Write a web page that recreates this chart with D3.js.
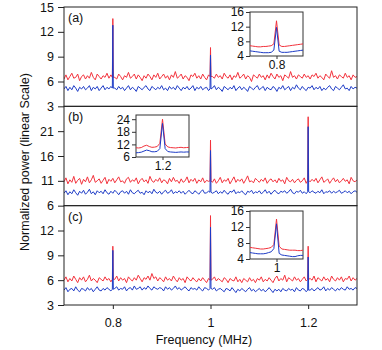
<!DOCTYPE html>
<html>
<head>
<meta charset="utf-8">
<script src="https://d3js.org/d3.v7.min.js"></script>
<style>
	body { margin: 0; background: #fff; }
	text { font-family: "Liberation Sans", Arial, sans-serif; fill: #111; }
</style>
</head>
<body>
<div id="canvas"></div>
<script>
var width = 382,
	height = 350;

// frequency grid of the main traces (MHz)
var freqStart = 0.7,
	freqStep = 0.004,
	freqCount = 151;

var xTicks = [0.8, 1, 1.2];

// panel (a) background traces
var aRed = [
	6.3,6.8,6.2,6.6,7.0,6.4,6.5,6.9,6.1,6.6,
	6.8,6.3,6.7,6.4,7.1,6.5,6.2,6.9,6.6,6.3,
	6.7,6.5,7.0,6.4,6.8,6.5,6.5,6.3,6.9,6.6,
	6.2,6.7,6.5,7.1,6.4,6.6,6.9,6.3,6.8,6.5,
	6.1,6.7,6.4,6.9,6.6,6.2,6.8,6.5,7.0,6.3,
	6.6,6.9,6.4,6.7,6.2,6.8,6.5,7.2,6.4,6.6,
	6.9,6.3,6.7,6.5,6.1,6.8,6.6,7.0,6.4,6.7,
	6.3,6.9,6.5,6.2,6.8,6.6,6.6,6.4,6.9,6.5,
	6.7,6.3,7.0,6.6,6.4,6.8,6.2,6.7,6.5,7.1,
	6.4,6.6,6.9,6.3,6.7,6.5,6.0,6.8,6.6,6.4,
	6.9,6.5,6.7,6.2,6.8,6.4,7.0,6.6,6.3,6.9,
	6.5,6.7,6.1,6.8,6.6,6.4,7.2,6.5,6.7,6.3,
	6.8,6.6,6.4,6.9,6.5,6.7,6.3,6.8,6.6,7.0,
	6.4,6.7,6.5,6.2,6.9,6.6,6.4,7.3,6.5,6.7,
	6.3,6.8,6.6,6.4,7.0,6.5,6.7,6.2,6.8,6.5,
	6.6];
var aBlue = [
	5.1,5.4,4.9,5.3,5.0,5.5,5.2,4.8,5.3,5.1,
	5.4,5.0,5.2,5.5,4.9,5.3,5.1,5.4,4.9,5.2,
	5.5,5.0,5.3,5.1,5.4,5.2,5.2,5.0,5.4,5.1,
	5.3,4.9,5.2,5.5,5.0,5.3,5.1,4.8,5.4,5.2,
	5.0,5.3,5.5,5.1,4.9,5.4,5.2,5.0,5.3,5.1,
	5.5,5.0,5.2,4.9,5.4,5.1,5.3,5.0,5.5,5.2,
	4.9,5.3,5.1,5.4,5.0,5.2,5.5,4.9,5.3,5.1,
	5.4,5.0,5.2,5.3,4.9,5.1,5.2,5.5,5.0,5.3,
	5.1,4.8,5.4,5.2,5.0,5.3,5.1,5.5,4.9,5.2,
	5.4,5.0,5.3,5.1,4.8,5.4,5.2,5.0,5.3,5.5,
	5.0,5.2,5.4,4.9,5.3,5.1,5.0,5.4,5.2,4.8,
	5.3,5.1,5.5,5.0,5.2,5.4,4.9,5.3,5.1,5.6,
	5.2,5.0,5.4,5.1,4.9,5.3,5.2,5.5,5.0,5.3,
	5.1,5.4,4.9,5.2,5.0,5.3,5.5,5.1,4.9,5.4,
	5.2,5.0,5.3,5.6,5.1,5.2,4.9,5.4,5.1,5.3,
	5.2];
var aPeakFreq = [0.8, 1.0];
var aPeakRed  = [13.6, 10.1];
var aPeakBlue = [12.8, 9.2];

// panel (b)
var bRed = [
	10.8,11.6,10.4,11.2,10.7,11.9,10.5,11.1,11.5,10.3,
	11.3,10.8,11.8,10.6,11.2,12.1,10.7,11.0,11.4,10.5,
	11.1,11.7,10.4,11.3,10.9,11.5,10.6,11.2,11.8,10.8,
	11.0,10.5,11.4,11.7,10.7,11.2,10.9,11.6,10.4,11.1,
	11.5,10.8,11.2,10.5,11.9,11.0,10.7,11.3,10.9,11.6,
	10.6,11.2,11.0,10.4,11.5,10.8,11.7,10.9,11.1,10.5,
	11.4,10.7,11.0,11.8,10.6,11.3,10.9,11.5,10.5,11.2,
	10.8,11.6,10.6,11.1,10.9,11.0,10.7,11.4,10.5,11.0,
	11.7,10.6,11.2,10.9,11.5,10.4,11.1,11.8,10.7,11.3,
	10.9,11.4,10.5,11.2,12.0,10.8,11.0,10.6,11.5,11.1,
	10.7,11.3,10.9,11.6,10.5,11.1,11.4,10.8,11.2,10.6,
	11.5,10.9,11.2,10.4,11.7,11.0,10.8,11.3,10.6,11.1,
	11.4,10.7,11.0,11.6,10.5,11.1,10.8,11.3,10.9,11.5,
	10.6,11.2,11.8,10.7,11.0,11.4,10.5,11.1,11.6,10.8,
	11.3,10.6,11.0,11.5,10.9,11.2,10.4,11.7,11.0,10.8,
	11.2];
var bBlue = [
	8.5,9.0,8.2,8.8,8.4,9.2,8.6,8.1,8.9,8.5,
	9.1,8.3,8.7,9.3,8.4,8.8,8.2,9.0,8.6,8.9,
	8.4,9.2,8.6,8.3,8.9,8.5,9.1,8.7,8.2,8.8,
	9.0,8.5,8.9,8.3,9.2,8.6,8.4,8.8,9.1,8.5,
	8.7,8.2,9.0,8.6,8.9,8.4,9.3,8.7,8.5,8.9,
	8.3,8.8,9.1,8.5,8.7,9.2,8.4,8.8,8.6,9.0,
	8.5,8.9,8.3,8.7,9.1,8.6,8.4,9.0,8.7,8.3,
	8.8,9.2,8.5,8.6,8.9,8.7,8.5,8.7,9.0,8.4,
	8.8,8.5,9.1,8.6,8.3,8.9,8.7,9.2,8.4,8.8,
	8.6,9.0,8.5,8.2,8.9,8.7,9.1,8.4,8.8,8.6,
	9.0,8.4,8.7,9.2,8.5,8.9,8.3,8.8,9.1,8.6,
	8.4,8.9,8.7,9.0,8.5,8.8,9.3,8.6,8.4,8.9,
	8.7,9.1,8.5,8.8,8.4,8.8,8.6,9.0,8.7,8.5,
	8.9,8.6,9.2,8.4,8.8,8.7,9.0,8.5,8.9,8.6,
	8.8,9.1,8.5,8.7,9.0,8.6,8.9,8.4,8.8,9.0,
	8.7];
var bPeakFreq = [1.0, 1.2];
var bPeakRed  = [19.2, 23.9];
var bPeakBlue = [17.1, 21.9];

// panel (c)
var cRed = [
	6.0,6.4,5.8,6.2,5.9,6.5,6.1,5.7,6.3,6.0,
	6.4,5.8,6.1,6.6,5.9,6.2,6.0,5.7,6.3,6.1,
	5.9,6.4,6.0,6.2,5.8,6.1,6.1,6.5,5.9,6.3,
	6.0,6.2,5.7,6.4,6.1,5.9,6.3,6.0,6.6,6.2,
	5.8,6.3,6.1,6.5,6.0,6.8,6.2,6.4,5.9,6.3,
	6.1,5.8,6.4,6.0,6.2,5.9,6.5,6.1,5.8,6.3,
	6.0,6.2,5.7,6.4,6.1,5.9,6.3,6.0,5.8,6.2,
	5.9,6.3,6.0,5.7,6.2,6.0,6.1,6.4,5.9,6.2,
	6.0,5.8,6.3,6.1,5.7,6.2,6.0,5.9,6.4,5.8,
	6.1,5.7,6.2,6.0,5.8,6.3,5.9,6.1,5.7,6.2,
	6.0,6.4,5.8,6.1,5.9,6.3,6.0,5.7,6.2,6.5,
	5.9,6.2,6.0,6.6,5.8,6.3,6.1,5.9,6.4,6.0,
	6.2,5.8,6.1,6.4,5.9,6.1,6.2,6.0,6.5,5.8,
	6.3,6.1,5.9,6.4,6.0,6.2,5.8,6.5,6.1,5.9,
	6.3,6.0,6.4,5.8,6.2,6.1,6.5,5.9,6.3,6.0,
	6.2];
var cBlue = [
	4.8,5.1,4.6,4.9,5.0,4.7,5.2,4.8,4.6,5.0,
	4.9,4.7,5.1,4.8,5.0,4.6,4.9,5.2,4.8,4.7,
	5.0,4.8,5.1,4.9,4.7,4.9,5.0,5.2,4.8,5.0,
	4.9,5.2,4.7,5.0,5.1,4.8,5.3,4.9,5.0,5.2,
	4.8,5.1,4.9,5.3,5.0,4.8,5.2,5.0,4.9,5.1,
	5.0,4.7,5.2,4.9,5.1,4.8,5.0,5.3,4.9,5.1,
	4.8,5.0,5.2,4.9,4.7,5.1,4.9,5.0,4.8,5.2,
	4.9,4.7,5.1,5.0,4.8,5.0,4.9,5.1,4.7,4.9,
	5.0,4.8,4.6,5.0,4.9,4.7,5.1,4.8,4.5,4.9,
	4.7,5.0,4.8,4.6,4.9,5.1,4.7,4.9,4.6,4.8,
	5.0,4.7,4.9,4.6,4.8,5.1,4.8,4.5,4.9,4.7,
	4.9,4.6,5.0,4.8,4.7,5.0,4.8,4.9,4.6,5.1,
	4.8,4.7,5.0,4.9,4.6,4.8,4.8,5.0,4.7,4.9,
	5.1,4.8,4.9,5.2,4.7,5.0,4.8,5.1,4.9,4.7,
	5.0,4.8,5.1,4.9,4.8,5.2,4.9,5.0,4.8,5.1,
	5.0];
var cPeakFreq = [0.8, 1.0, 1.2];
var cPeakRed  = [10.1, 13.8, 10.1];
var cPeakBlue = [9.6, 12.4, 8.8];

// zoomed insets: 21 points around the peak, step 0.002 MHz
var insetStep = 0.002;
var insetA = { center: 0.8, tickLabel: "0.8" };
var insetARed  = [6.8,6.7,6.6,6.5,6.5,6.6,6.6,6.7,6.8,7.3,13.6,7.0,6.6,6.6,6.7,6.8,6.9,7.0,7.1,7.2,7.3];
var insetABlue = [5.4,5.3,5.2,5.1,5.0,4.9,4.9,4.9,5.0,5.6,11.8,5.3,5.0,5.0,5.0,5.1,5.2,5.3,5.4,5.5,5.6];
var insetB = { center: 1.2, tickLabel: "1.2" };
var insetBRed  = [10.4,10.3,10.5,11.2,11.6,11.0,10.6,10.7,11.0,12.5,24.0,12.2,10.8,10.5,10.4,10.3,10.5,10.6,10.4,10.5,10.6];
var insetBBlue = [8.0,8.1,8.3,8.8,9.3,9.0,8.5,8.5,8.7,10.0,22.0,10.0,8.6,8.4,8.3,8.2,8.3,8.4,8.3,8.4,8.4];
var insetC = { center: 1.0, tickLabel: "1" };
var insetCRed  = [6.9,6.8,6.7,6.6,6.5,6.5,6.6,6.7,6.9,7.6,14.0,7.2,6.5,6.4,6.3,6.2,6.2,6.2,6.1,6.1,6.2];
var insetCBlue = [5.6,5.5,5.4,5.3,5.3,5.3,5.4,5.6,5.8,6.6,12.8,5.4,5.0,4.9,4.8,4.7,4.6,4.6,4.8,4.9,4.9];

var panelLabels = ["(a)", "(b)", "(c)"];
var panelDomains = [[3, 15], [6, 26], [3, 15]];
var panelTicks = [[3, 6, 9, 12, 15], [6, 11, 16, 21], [3, 6, 9, 12]];
var insetDomains = [[4, 16], [6, 26], [4, 16]];
var insetTicks = [[4, 8, 12, 16], [6, 12, 18, 24], [4, 8, 12, 16]];

var red = "#f2323c",
	blue = "#1d3bc6";

var margin = { left: 64, right: 25, top: 7, bottom: 45 };
var plotW = width - margin.left - margin.right,
	plotH = height - margin.top - margin.bottom,
	panelH = plotH / 3;

var freqs = d3.range(freqCount).map(function(i){ return freqStart + i * freqStep; });

// a trace = background points, with each narrow peak put in at its grid point
var spikeHalf = 0.001;
function buildTrace(noise, peakFreq, peakVal){
	var pts = [];
	freqs.forEach(function(f, i){
		var j = peakFreq.findIndex(function(pf){ return Math.abs(pf - f) < freqStep / 2; });
		if(j < 0){
			pts.push([f, noise[i]]);
		} else {
			pts.push([f - spikeHalf, noise[i]]);
			pts.push([f, peakVal[j]]);
			pts.push([f + spikeHalf, noise[i]]);
		}
	});
	return pts;
}

var panels = [
	{ red: buildTrace(aRed, aPeakFreq, aPeakRed), blue: buildTrace(aBlue, aPeakFreq, aPeakBlue),
		inset: insetA, iRed: insetARed, iBlue: insetABlue, box: [250, 12, 53, 44] },
	{ red: buildTrace(bRed, bPeakFreq, bPeakRed), blue: buildTrace(bBlue, bPeakFreq, bPeakBlue),
		inset: insetB, iRed: insetBRed, iBlue: insetBBlue, box: [136, 115, 53, 42] },
	{ red: buildTrace(cRed, cPeakFreq, cPeakRed), blue: buildTrace(cBlue, cPeakFreq, cPeakBlue),
		inset: insetC, iRed: insetCRed, iBlue: insetCBlue, box: [250, 211, 53, 48] }
];

var svg = d3.select("#canvas")
	.append("svg")
		.attr("width", width)
		.attr("height", height);

var x = d3.scaleLinear().domain([0.7, 1.3]).range([margin.left, margin.left + plotW]);

panels.forEach(function(p, k){
	var top = margin.top + k * panelH;
	var y = d3.scaleLinear().domain(panelDomains[k]).range([top + panelH, top]);

	var clipId = "clip" + k;
	svg.append("clipPath").attr("id", clipId)
		.append("rect")
			.attr("x", margin.left).attr("y", top)
			.attr("width", plotW).attr("height", panelH);

	var line = d3.line()
		.x(function(d){ return x(d[0]); })
		.y(function(d){ return y(d[1]); });

	var g = svg.append("g").attr("clip-path", "url(#" + clipId + ")");
	g.append("path").datum(p.red)
		.attr("d", line).attr("fill", "none")
		.attr("stroke", red).attr("stroke-width", 1);
	g.append("path").datum(p.blue)
		.attr("d", line).attr("fill", "none")
		.attr("stroke", blue).attr("stroke-width", 1);

	// panel frame
	svg.append("rect")
		.attr("x", margin.left).attr("y", top)
		.attr("width", plotW).attr("height", panelH)
		.attr("fill", "none").attr("stroke", "#222").attr("stroke-width", 1);

	var yAxis = svg.append("g")
		.attr("transform", "translate(" + margin.left + ",0)")
		.call(d3.axisLeft(y).tickValues(panelTicks[k]).tickSize(6).tickPadding(4));
	yAxis.select(".domain").remove();
	yAxis.selectAll("line").attr("stroke", "#222");
	yAxis.selectAll("text").style("font-size", "12.5px").attr("fill", "#111");

	svg.append("text")
		.attr("x", margin.left + 4).attr("y", top + 15)
		.style("font-size", "12.5px")
		.text(panelLabels[k]);

	// inset
	var b = p.box;
	var ix = d3.scaleLinear()
		.domain([p.inset.center - 10 * insetStep, p.inset.center + 10 * insetStep])
		.range([b[0], b[0] + b[2]]);
	var iy = d3.scaleLinear().domain(insetDomains[k]).range([b[1] + b[3], b[1]]);
	var iFreqs = d3.range(p.iRed.length).map(function(i){
		return p.inset.center - 10 * insetStep + i * insetStep;
	});
	var iLine = d3.line()
		.x(function(d, i){ return ix(iFreqs[i]); })
		.y(function(d){ return iy(d); });

	svg.append("rect")
		.attr("x", b[0]).attr("y", b[1]).attr("width", b[2]).attr("height", b[3])
		.attr("fill", "#fff").attr("stroke", "#333").attr("stroke-width", 1);
	svg.append("path").datum(p.iRed)
		.attr("d", iLine).attr("fill", "none")
		.attr("stroke", red).attr("stroke-width", 1);
	svg.append("path").datum(p.iBlue)
		.attr("d", iLine).attr("fill", "none")
		.attr("stroke", blue).attr("stroke-width", 1);

	var iyAxis = svg.append("g")
		.attr("transform", "translate(" + b[0] + ",0)")
		.call(d3.axisLeft(iy).tickValues(insetTicks[k]).tickSize(4).tickPadding(2));
	iyAxis.select(".domain").remove();
	iyAxis.selectAll("line").attr("stroke", "#333");
	iyAxis.selectAll("text").style("font-size", "12px").attr("fill", "#111");

	var ixAxis = svg.append("g")
		.attr("transform", "translate(0," + (b[1] + b[3]) + ")")
		.call(d3.axisBottom(ix).tickValues([p.inset.center])
			.tickFormat(function(){ return p.inset.tickLabel; })
			.tickSize(3).tickPadding(1));
	ixAxis.select(".domain").remove();
	ixAxis.selectAll("line").attr("stroke", "#333");
	ixAxis.selectAll("text").style("font-size", "12px").attr("fill", "#111");
});

var xAxis = svg.append("g")
	.attr("transform", "translate(0," + (margin.top + plotH) + ")")
	.call(d3.axisBottom(x).tickValues(xTicks).tickFormat(d3.format("")).tickSize(4).tickPadding(9));
xAxis.select(".domain").remove();
xAxis.selectAll("line").attr("stroke", "#222");
xAxis.selectAll("text").style("font-size", "12.5px").attr("fill", "#111");

svg.append("text")
	.attr("x", 204).attr("y", 344)
	.attr("text-anchor", "middle")
	.style("font-size", "12.5px")
	.text("Frequency (MHz)");

svg.append("text")
	.attr("transform", "translate(29,162) rotate(-90)")
	.attr("text-anchor", "middle")
	.style("font-size", "12.5px")
	.text("Normalized power (linear Scale)");
</script>
</body>
</html>
